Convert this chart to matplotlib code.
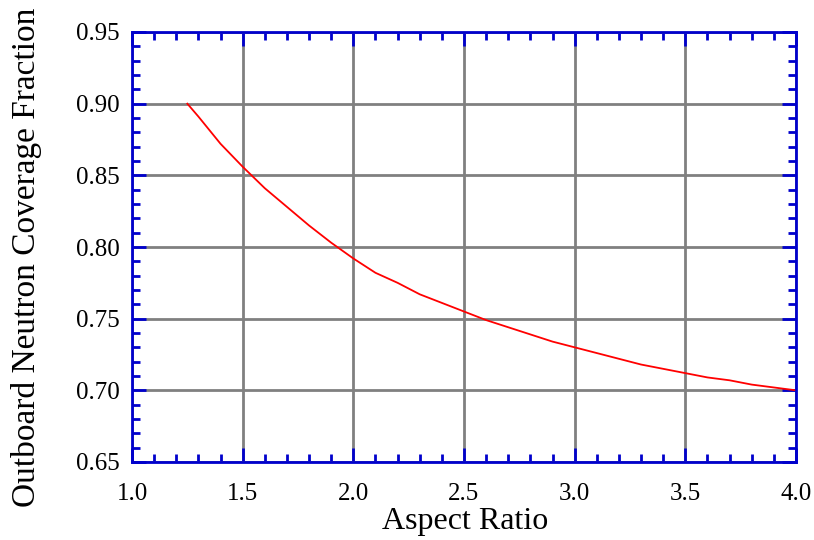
import matplotlib.pyplot as plt
from matplotlib.ticker import MultipleLocator

# aspect ratio vs outboard neutron coverage
aspect = [1.25, 1.3, 1.4, 1.5, 1.6, 1.7, 1.8, 1.9, 2.0, 2.1, 2.2, 2.3, 2.4, 2.5,
          2.6, 2.7, 2.8, 2.9, 3.0, 3.1, 3.2, 3.3, 3.4, 3.5, 3.6, 3.7, 3.8, 3.9, 4.0]
coverage = [0.900, 0.891, 0.872, 0.856, 0.841, 0.828, 0.815, 0.803, 0.792, 0.782,
            0.775, 0.767, 0.761, 0.755, 0.749, 0.744, 0.739, 0.734, 0.730, 0.726,
            0.722, 0.718, 0.715, 0.712, 0.709, 0.707, 0.704, 0.702, 0.700]

plt.rcParams["font.family"] = ["Liberation Serif", "DejaVu Serif"]

fig = plt.figure(figsize=(8.14, 5.40), dpi=100)
ax = fig.add_axes([132 / 814, 1 - 462 / 540, 664 / 814, 430 / 540])

ax.plot(aspect, coverage, color="red", lw=1.3, zorder=3)

ax.set_xlim(1.0, 4.0)
ax.set_ylim(0.65, 0.95)
ax.xaxis.set_major_locator(MultipleLocator(0.5))
ax.xaxis.set_minor_locator(MultipleLocator(0.1))
ax.yaxis.set_major_locator(MultipleLocator(0.05))
ax.yaxis.set_minor_locator(MultipleLocator(0.01))
ax.xaxis.set_major_formatter(lambda v, p: f"{v:.1f}")
ax.yaxis.set_major_formatter(lambda v, p: f"{v:.2f}")

ax.grid(True, which="major", color="gray", lw=2)
ax.set_axisbelow(True)

for s in ax.spines.values():
    s.set_color("#0000cc")
    s.set_linewidth(2)
    s.set_zorder(4)

ax.tick_params(which="both", direction="in", top=True, right=True, color="#0000cc",
               labelcolor="black", labelsize=18)
ax.tick_params(which="major", length=10, width=2)
ax.tick_params(which="minor", length=6, width=2)
ax.tick_params(axis="y", which="major", pad=9)
ax.tick_params(axis="x", which="major", pad=15)

ax.set_xlabel("Aspect Ratio", fontsize=23)
ax.set_ylabel("Outboard Neutron Coverage Fraction", fontsize=24, va="center")
ax.xaxis.set_label_coords((465 - 132) / 664, (462 - 522) / 430)
ax.xaxis.label.set_va("center")
ax.yaxis.set_label_coords((26 - 132) / 664, (462 - 257) / 430)

fig.savefig("out.png", dpi=100)
